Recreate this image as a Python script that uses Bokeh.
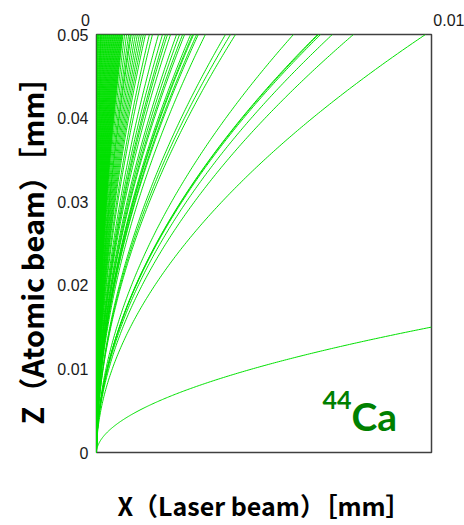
import numpy as np
from bokeh.plotting import figure
from bokeh.models import Range1d, FixedTicker, Label, LinearAxis, Title
from bokeh.embed import file_html
from bokeh.resources import INLINE

# Trajectory exit points (mm): x where each atom trajectory crosses z = 0.05
top_exit_x = [
    0.00001, 0.00003, 0.00004, 0.00006, 0.00008, 0.00010, 0.00012, 0.00013,
    0.00015, 0.00017, 0.00019, 0.00021, 0.00023, 0.00025, 0.00027, 0.00029,
    0.00031, 0.00033, 0.00035, 0.00037, 0.00039, 0.00041, 0.00043, 0.00045,
    0.00047, 0.00049, 0.00051, 0.00053, 0.00055, 0.00057, 0.00059, 0.00061,
    0.00063, 0.00065, 0.00067, 0.00069, 0.00071, 0.00073, 0.00075, 0.00077,
    0.00079,
    0.00084, 0.00090, 0.00096, 0.00101, 0.00104, 0.00110, 0.00116, 0.00122,
    0.00128, 0.00134, 0.00140,
    0.00146, 0.00158, 0.00167, 0.00185, 0.00197, 0.00206, 0.00212, 0.00221,
    0.00239, 0.00248, 0.00257, 0.00263, 0.00281, 0.00287, 0.00290, 0.00299,
    0.00304, 0.00325, 0.00385, 0.00400, 0.00415,
    0.00588, 0.00660, 0.00663, 0.00669, 0.00704, 0.00767, 0.00982,
]
# Trajectories that leave through the right edge x = 0.01: z at exit (mm)
side_exit_z = [0.015]

x_ticks = [0, 0.01]
x_tick_labels = ["0", "0.01"]
y_ticks = [0, 0.01, 0.02, 0.03, 0.04, 0.05]
y_tick_labels = ["0", "0.01", "0.02", "0.03", "0.04", "0.05"]

X_MAX, Z_MAX = 0.01, 0.05
EXPONENT = 0.53  # z grows roughly as x**0.53 along each trajectory

def trajectory(x_end, z_end, n=240):
    s = np.linspace(0.0, 1.0, n)
    return list(x_end * s ** (1.0 / EXPONENT)), list(z_end * s)

xs, ys = [], []
for xe in top_exit_x:
    tx, tz = trajectory(xe, Z_MAX)
    xs.append(tx)
    ys.append(tz)
for ze in side_exit_z:
    tx, tz = trajectory(X_MAX, ze)
    xs.append(tx)
    ys.append(tz)

p = figure(width=464, height=525, output_backend="svg", toolbar_location=None,
           x_range=Range1d(0, X_MAX), y_range=Range1d(0, Z_MAX),
           x_axis_location=None, y_axis_location="left",
           min_border_left=96, min_border_right=33,
           min_border_top=34, min_border_bottom=73)
p.grid.visible = False
p.outline_line_color = "#404040"
p.outline_line_width = 1.5
p.background_fill_color = "white"
p.border_fill_color = "white"

p.multi_line(xs, ys, line_color="#00E000", line_width=1)

def style_axis(ax):
    ax.axis_line_color = None
    ax.major_tick_line_color = None
    ax.minor_tick_line_color = None
    ax.major_tick_out = 0
    ax.major_tick_in = 0
    ax.minor_tick_out = 0
    ax.major_label_text_font = "Liberation Sans"
    ax.major_label_text_font_size = "16px"
    ax.major_label_text_color = "#1a1a1a"

ay = p.yaxis[0]
ay.ticker = FixedTicker(ticks=y_ticks)
ay.major_label_overrides = {t: s for t, s in zip(y_ticks, y_tick_labels)}
ay.major_label_standoff = 8
style_axis(ay)

# top axis: "0" sits just left of the frame, "0.01" just right of it
NB = "\u00a0"
top_text = [x_tick_labels[0] + NB * 5, NB * 8 + x_tick_labels[1]]
ax_top = LinearAxis(ticker=FixedTicker(ticks=x_ticks),
                    major_label_overrides={t: s for t, s in zip(x_ticks, top_text)},
                    major_label_standoff=6)
style_axis(ax_top)
p.add_layout(ax_top, "above")

# bottom axis carries only the x title
ax_bottom = LinearAxis(ticker=FixedTicker(ticks=[]), major_label_standoff=0,
                       axis_label="X（Laser beam）［mm］", axis_label_standoff=34,
                       axis_label_text_font="Noto Sans CJK JP",
                       axis_label_text_font_style="bold",
                       axis_label_text_font_size="25px",
                       axis_label_text_color="black")
style_axis(ax_bottom)
p.add_layout(ax_bottom, "below")

# z title, shifted down along the axis
p.add_layout(Title(text="Z（Atomic beam）［mm］", align="center", offset=-22,
                   vertical_align="middle", standoff=4,
                   text_font="Noto Sans CJK JP", text_font_style="bold",
                   text_font_size="29px", text_color="black"), "left")

# isotope tag
p.add_layout(Label(x=0.00761, y=0.00442, text="Ca", text_align="left",
                   text_baseline="alphabetic", text_font="Lato",
                   text_font_style="bold", text_font_size="39px",
                   text_color="#008000"))
p.add_layout(Label(x=0.00761, y=0.00631, text="44", text_align="right",
                   text_baseline="alphabetic", text_font="Lato",
                   text_font_style="bold", text_font_size="25px",
                   text_color="#008000"))

open("out.html", "w").write(file_html(p, INLINE))
